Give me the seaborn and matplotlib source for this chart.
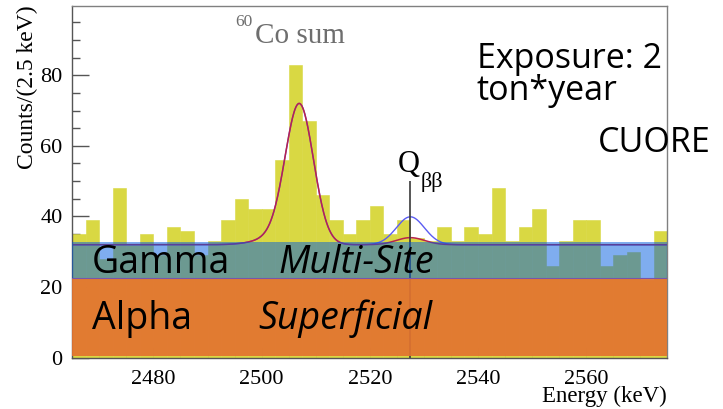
import numpy as np
import pandas as pd
import matplotlib
matplotlib.use("Agg")
import matplotlib.pyplot as plt
import seaborn as sns

# ---- histogram data: counts per 2.5 keV bin, 2465-2575 keV ----
bin_lo = 2465.0
bin_hi = 2575.0
bin_width = 2.5
counts = [35, 39, 28, 48, 32, 35, 29, 37, 36, 29,
          33, 39, 45, 42, 42, 56, 83, 67, 46, 39,
          35, 39, 43, 35, 39, 34, 33, 37, 33, 37,
          35, 48, 33, 37, 42, 26, 33, 39, 39, 26,
          29, 30, 22, 36]

# ---- fit model parameters ----
fit_baseline = 32.0
co_mu, co_sigma, co_amp = 2507.0, 2.6, 38.5          # 60Co sum peak
co_tail_mu, co_tail_sigma, co_tail_amp = 2503.5, 4.0, 2.2
q_bb = 2527.5
sig_sigma = 2.6
sig_amp_best = 2.0      # best-fit signal (red)
sig_amp_limit = 7.9     # 90% C.L. signal (blue)

# ---- background regions ----
alpha_band = (0.35, 22.5)
gamma_band = (22.5, 32.8)

x_ticks = [2480, 2500, 2520, 2540, 2560]
y_ticks = [0, 20, 40, 60, 80]

W, H = 723, 409
sns.set_style("ticks")
plt.rcParams["font.family"] = ["Liberation Serif", "DejaVu Serif"]
plt.rcParams["text.color"] = "black"
plt.rcParams["xtick.labelcolor"] = "black"
plt.rcParams["ytick.labelcolor"] = "black"

fig = plt.figure(figsize=(W / 100, H / 100), dpi=100)
ax = fig.add_axes([72.3 / W, 1 - 357.7 / H, (667.3 - 72.3) / W, (357.7 - 6) / H])

n = len(counts)
centers = bin_lo + bin_width * (np.arange(n) + 0.5)
hist_df = pd.DataFrame({"energy": centers, "counts": counts})

yellow = "#d9d843"
sns.histplot(data=hist_df, x="energy", weights="counts", binwidth=bin_width,
             binrange=(bin_lo, bin_hi), color=yellow, alpha=1,
             edgecolor=yellow, linewidth=0.4, ax=ax, zorder=1)


def gauss(e, mu, s, a):
    return a * np.exp(-0.5 * ((e - mu) / s) ** 2)


energy = np.linspace(bin_lo, bin_hi, 1201)
co_shape = gauss(energy, co_mu, co_sigma, co_amp) + gauss(energy, co_tail_mu, co_tail_sigma, co_tail_amp)
fit_limit = fit_baseline + co_shape + gauss(energy, q_bb, sig_sigma, sig_amp_limit)
fit_best = fit_baseline + co_shape + gauss(energy, q_bb, sig_sigma, sig_amp_best)

sns.lineplot(x=energy, y=fit_limit, color="#5b5cf2", lw=1.0, ax=ax, zorder=2)
sns.lineplot(x=energy, y=fit_best, color="#b8224e", lw=1.1, ax=ax, zorder=2.1)

# Q-value marker
ax.vlines(q_bb, 0, 49.9, color="#3a3a3a", lw=1.2, zorder=2.4)

# background-source bands
ax.axhspan(*gamma_band, color=(0.0, 0.36, 0.88), alpha=0.5, lw=0, zorder=3)
ax.axhspan(*alpha_band, color="#e27330", alpha=0.92, lw=0, zorder=3)
ax.axhline(gamma_band[0], color="#7a55a8", lw=0.8, zorder=3.1)

ax.set_xlim(bin_lo, bin_hi)
ax.set_ylim(0, 99.6)
ax.set_xticks(x_ticks)
ax.set_yticks(y_ticks)
ax.set_xticks(np.arange(2470, 2575, 5), minor=True)
ax.set_yticks(np.arange(0, 100, 5), minor=True)
ax.set_xlabel("")
ax.set_ylabel("")
ax.tick_params(which="both", direction="in", top=False, right=False,
               color="#555555", width=1, labelsize=16)
ax.tick_params(axis="y", which="major", length=12, pad=7)
ax.tick_params(axis="y", which="minor", length=6)
ax.tick_params(axis="x", which="major", length=8, pad=8.5)
ax.tick_params(axis="x", which="minor", length=3.5)
for side, sp in ax.spines.items():
    sp.set_visible(True)
    sp.set_linewidth(1.0)
    sp.set_color("#555555" if side in ("left", "bottom") else "#808080")


def ftext(px, py, s, **kw):
    return fig.text(px / W, 1 - py / H, s, **kw)


serif = ["Liberation Serif", "DejaVu Serif"]
sans = ["Open Sans", "DejaVu Sans"]

ftext(27, 5, "Counts/(2.5 keV)", rotation=90, ha="center", va="top",
      fontsize=17, family=serif)
ftext(667, 402, "Energy (keV)", ha="right", va="baseline", fontsize=16.5, family=serif)

ftext(235, 26, "60", ha="left", va="baseline", fontsize=12.5, color="#6e6e6e", family=serif)
ftext(255, 42.7, "Co sum", ha="left", va="baseline", fontsize=21, color="#6e6e6e", family=serif)

ftext(398, 171.7, "Q", ha="left", va="baseline", fontsize=22, family=serif)
ftext(421, 186.5, "ββ", ha="left", va="baseline", fontsize=16, family=serif)

ftext(476.7, 68.3, "Exposure: 2", ha="left", va="baseline", fontsize=24.5, family=sans)
ftext(476.7, 100, "ton*year", ha="left", va="baseline", fontsize=24.5, family=sans)
ftext(598, 151.7, "CUORE", ha="left", va="baseline", fontsize=24.5, family=sans)

ftext(91.7, 272.7, "Gamma", ha="left", va="baseline", fontsize=27, family=sans)
ftext(278, 272.7, "Multi-Site", ha="left", va="baseline", fontsize=27,
      style="italic", family=sans)
ftext(91.7, 329.3, "Alpha", ha="left", va="baseline", fontsize=27, family=sans)
ftext(258, 329.3, "Superficial", ha="left", va="baseline", fontsize=27,
      style="italic", family=sans)

fig.savefig("out.png", dpi=100)
